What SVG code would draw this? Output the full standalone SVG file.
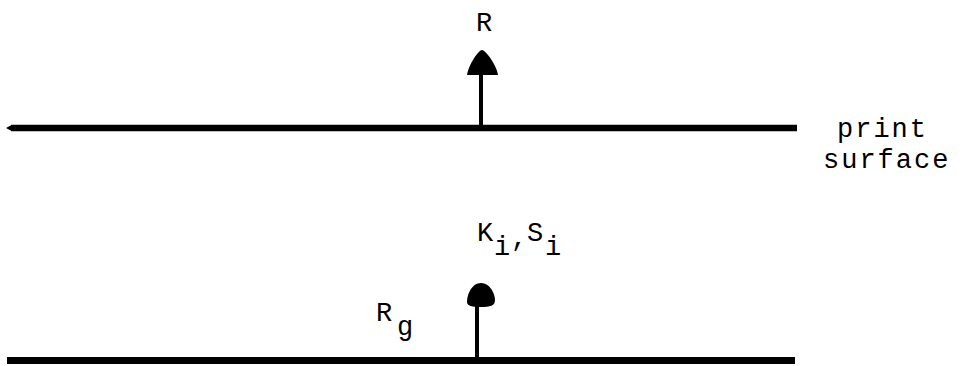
<svg xmlns="http://www.w3.org/2000/svg" width="960" height="366" viewBox="0 0 960 366">
<style>
.t{font-family:"Liberation Mono","DejaVu Sans Mono",monospace;fill:#000;font-size:27px}
.ln{stroke:#000;stroke-width:6.5;fill:none}
.st{stroke:#000;stroke-width:4;fill:none}
</style>
<rect width="960" height="366" fill="#fff"/>
<g id="connectors">
<path class="ln" d="M11 128 H797"/>
<path d="M6 128 L12 124.75 L12 131.25 Z" fill="#000"/>
<path class="ln" d="M7 360.5 H795" style="stroke-width:7"/>
<path class="st" d="M481 128 V72"/>
<path d="M482 50 C477 51 468 67 467 75 L498 75 C497 67 487 51 482 50 Z" fill="#000"/>
<path class="st" d="M477 360 V302"/>
<path d="M481 283 C472 283 467 294 467 302 C467 306 472 307 481 307 C490 307 495 306 495 300 C495 294 490 283 481 283 Z" fill="#000"/>
</g>
<g id="label-R"><text class="t" x="476" y="31">R</text></g>
<g id="label-surface">
<text class="t" x="837" y="137" letter-spacing="2">print</text>
<text class="t" x="823" y="168" letter-spacing="2">surface</text>
</g>
<g id="label-KS">
<text class="t" x="477" y="241">K</text>
<text class="t" x="494" y="255">i</text>
<text class="t" x="511" y="246">,</text>
<text class="t" x="527" y="241">S</text>
<text class="t" x="545" y="255">i</text>
</g>
<g id="label-Rg">
<text class="t" x="376" y="321">R</text>
<text class="t" x="397" y="335">g</text>
</g>
</svg>
